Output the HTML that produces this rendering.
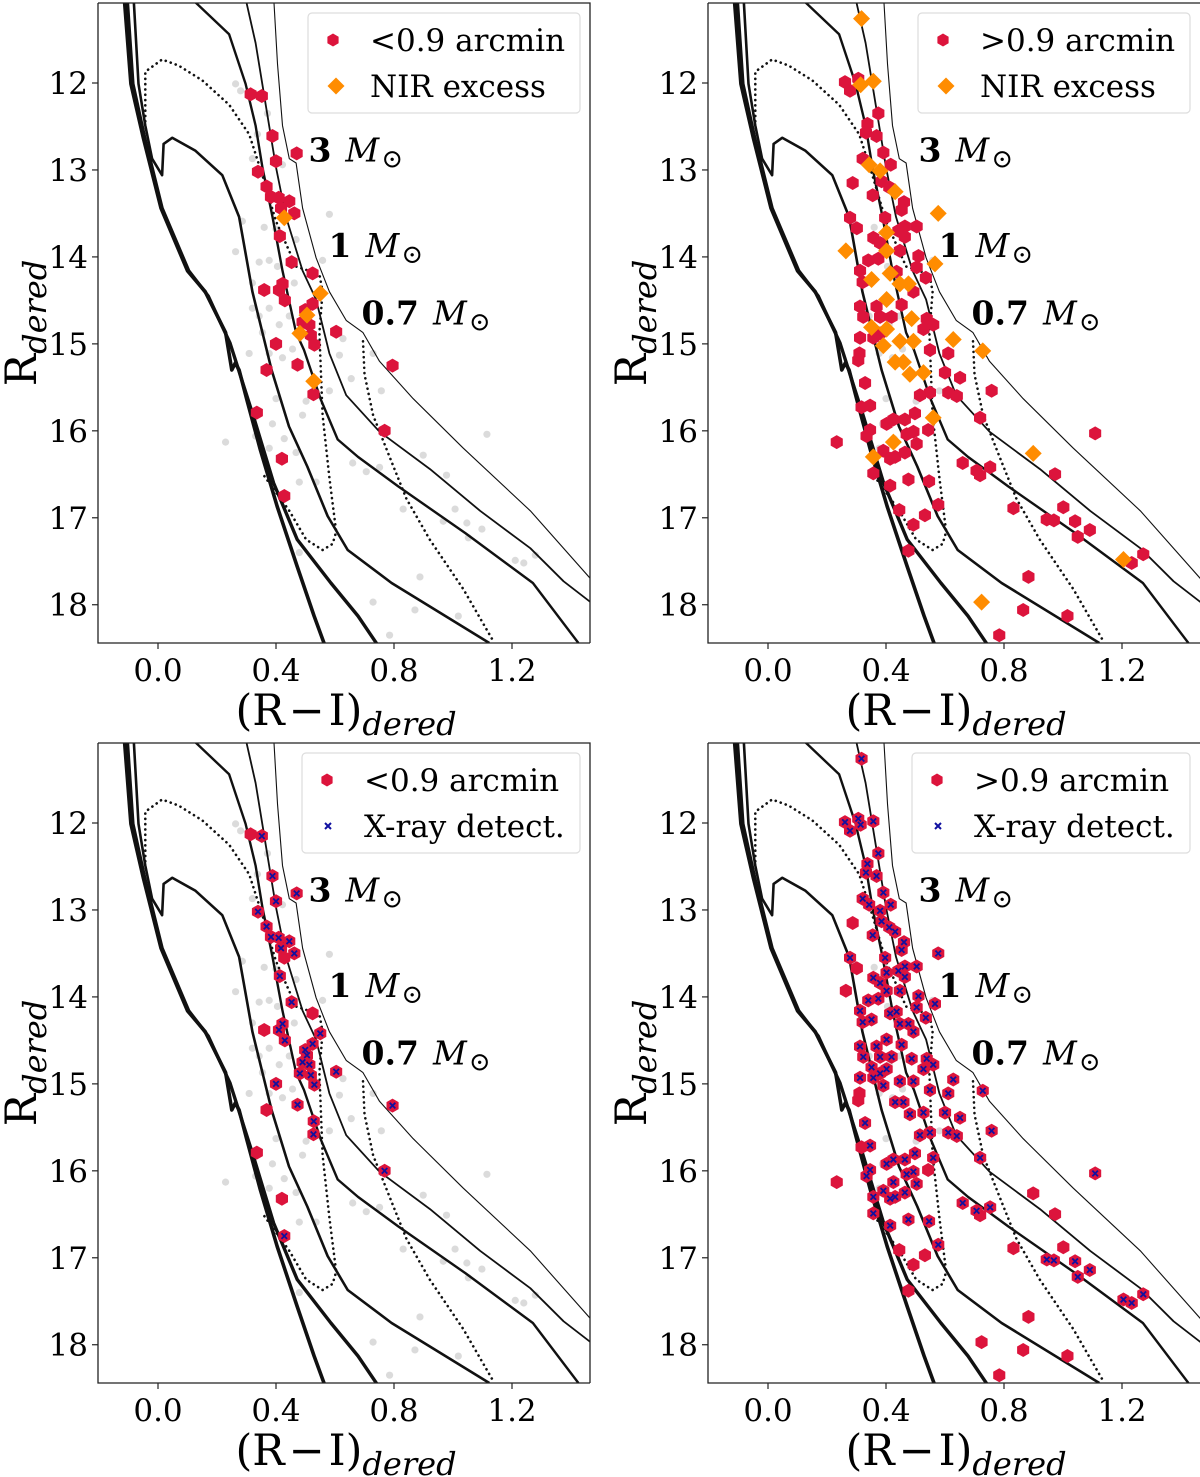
<!DOCTYPE html>
<html><head><meta charset="utf-8"><title>R vs R-I color-magnitude diagrams</title>
<style>
html,body{margin:0;padding:0;background:#fff;}
svg{display:block;font-family:"DejaVu Serif","Liberation Serif",serif;}
</style></head>
<body>
<svg id="fig" width="1200" height="1477" viewBox="0 0 1200 1477" xmlns="http://www.w3.org/2000/svg"></svg>
<script>
// ---------- data ----------
const xTicks = [0.0, 0.4, 0.8, 1.2];
const xTickLabels = ["0.0", "0.4", "0.8", "1.2"];
const yTicks = [12, 13, 14, 15, 16, 17, 18];
const yTickLabels = ["12", "13", "14", "15", "16", "17", "18"];

// isochrones (R-I, R)
const isoA_x = [-0.115,-0.092,-0.05,0.01,0.10,0.16,0.229,0.25,0.262,0.275,0.301,0.347,0.404,0.472,0.529,0.569];
const isoA_y = [11.0,12.01,12.63,13.44,14.16,14.40,14.87,15.3,15.22,15.3,15.64,16.22,16.87,17.56,18.13,18.5];
const isoA2_x = [-0.105,-0.085,-0.045,0.014,0.104,0.17,0.215,0.244,0.324,0.392,0.472,0.586,0.678,0.752];
const isoA2_y = [11.0,12.01,12.63,13.44,14.16,14.45,14.78,14.99,15.84,16.60,17.25,17.75,18.13,18.5];
const isoB_x = [-0.083,-0.066,-0.043,-0.02,0.014,0.019,0.048,0.127,0.218,0.275,0.32,0.385,0.444,0.506,0.575,0.643,0.792,1.123];
const isoB_y = [11.0,12.01,12.49,12.87,13.06,12.70,12.63,12.78,13.06,13.54,14.40,15.3,15.95,16.41,16.98,17.37,17.75,18.44];
const isoC_x = [0.12,0.241,0.297,0.331,0.354,0.388,0.422,0.468,0.495,0.552,0.609,0.678,0.815,1.043,1.271,1.425];
const isoC_y = [11.05,11.44,12.01,12.49,12.97,13.54,14.16,14.87,15.07,15.64,16.10,16.30,16.64,17.18,17.75,18.44];
const isoD_x = [0.295,0.331,0.365,0.40,0.434,0.49,0.536,0.581,0.638,0.751,0.922,1.092,1.262,1.375,1.466];
const isoD_y = [11.0,11.54,12.25,12.97,13.54,14.16,14.49,15.11,15.59,16.01,16.44,16.92,17.35,17.73,17.97];
const isoE_x = [0.392,0.405,0.422,0.445,0.468,0.49,0.536,0.581,0.638,0.695,0.751,0.865,1.035,1.262,1.466];
const isoE_y = [11.0,11.78,12.49,12.87,12.92,13.44,14.01,14.40,14.73,14.87,15.20,15.63,16.2,16.92,17.70];
const dot1_x = [-0.043,-0.043,0.014,0.07,0.15,0.241,0.309,0.354,0.40,0.468,0.547,0.558,0.547,0.558,0.581,0.604,0.592,0.558,0.502,0.445,0.354];
const dot1_y = [12.44,11.87,11.73,11.8,11.97,12.25,12.59,13.06,13.59,14.11,14.2,14.40,14.87,15.82,16.54,17.16,17.3,17.37,17.25,16.92,16.49];
const dot2_x = [0.695,0.70,0.729,0.785,0.842,0.921,1.035,1.137];
const dot2_y = [14.97,15.35,15.82,16.3,16.78,17.25,17.82,18.42];

// background field stars
const grayX = [.263,.28,.371,.32,.422,.337,.371,.286,.36,.40,.468,.581,.263,.343,.377,.405,.32,.462,.558,.32,.377,.343,.411,.445,.309,.354,.422,.456,.377,.627,.615,.729,.581,.655,.757,.40,.502,.49,.388,.428,.229,.331,.377,.468,.66,.706,.751,.899,1.115,.978,.479,.536,.831,1.007,.967,1.047,1.098,1.052,.479,.888,1.211,1.24,1.279,.729,.871,1.018,.785];
const grayY = [12.01,12.09,12.35,12.87,12.94,12.59,13.16,13.59,13.66,13.68,13.8,13.51,13.94,14.06,14.04,14.11,14.3,14.3,14.04,14.59,14.59,14.68,14.78,14.68,15.11,14.87,15.16,15.06,15.11,14.94,15.13,15.11,15.54,15.4,15.54,15.63,15.66,15.82,15.92,16.09,16.13,16.06,16.2,16.25,16.37,16.47,16.42,16.28,16.04,16.51,16.59,16.59,16.9,16.9,17.04,17.06,17.13,17.23,17.4,17.68,17.49,17.52,17.43,17.97,18.06,18.13,18.35];

// inner (<0.9 arcmin) sample
const innerX = [.314,.352,.388,.47,.40,.339,.368,.383,.409,.445,.417,.462,.413,.453,.524,.36,.422,.41,.43,.524,.499,.513,.49,.518,.53,.604,.40,.368,.473,.795,.527,.335,.768,.42,.428];
const innerY = [12.13,12.15,12.61,12.81,12.9,13.02,13.19,13.31,13.32,13.36,13.44,13.5,13.76,14.06,14.19,14.38,14.31,14.38,14.5,14.54,14.61,14.78,14.75,14.9,15.01,14.86,15.0,15.3,15.24,15.25,15.58,15.79,16.0,16.32,16.75];
const innerNirX = [.428,.55,.505,.481,.528];
const innerNirY = [13.55,14.42,14.67,14.88,15.43];
const innerXrayX = [.352,.388,.47,.40,.339,.368,.383,.409,.445,.417,.462,.413,.453,.422,.41,.43,.524,.499,.513,.49,.518,.53,.604,.40,.473,.795,.527,.768,.428,.55,.505,.481,.528];
const innerXrayY = [12.15,12.61,12.81,12.9,13.02,13.19,13.31,13.32,13.36,13.44,13.5,13.76,14.06,14.31,14.38,14.5,14.54,14.61,14.78,14.75,14.9,15.01,14.86,15.0,15.24,15.25,15.58,16.0,16.75,14.42,14.67,14.88,15.43];

// outer (>0.9 arcmin) sample
const outerX = [.261,.278,.306,.374,.337,.332,.368,.391,.321,.416,.385,.287,.355,.411,.461,.453,.278,.301,.397,.464,.504,.357,.380,.442,.464,.447,.510,.504,.535,.340,.374,.312,.321,.436,.493,.453,.312,.368,.323,.380,.419,.538,.560,.527,.312,.310,.306,.357,.380,.549,.611,.600,.329,.651,.758,.515,.549,.611,.640,.317,.346,.498,.719,.402,.425,.464,.543,.470,.493,.346,.334,.233,.504,.391,.431,.464,.414,.660,.707,.719,.753,1.109,.973,.357,.414,.476,.546,.577,.445,.532,.832,1.001,.945,.969,1.041,1.091,1.050,.493,.476,1.272,1.233,.883,.865,1.015,.784];
const outerY = [11.99,12.09,11.95,12.35,12.47,12.57,12.61,12.80,12.87,12.94,13.13,13.15,13.29,13.20,13.37,13.46,13.55,13.67,13.55,13.65,13.65,13.78,13.84,13.70,13.77,13.93,13.99,14.12,14.24,14.04,14.02,14.16,14.29,14.17,14.40,14.55,14.57,14.57,14.69,14.69,14.69,14.71,14.78,14.83,14.93,15.11,15.19,14.93,14.88,15.07,15.11,15.33,15.45,15.39,15.54,15.59,15.56,15.56,15.60,15.73,15.71,15.80,15.85,15.92,15.87,15.87,15.99,16.04,16.01,15.99,16.06,16.13,16.15,16.23,16.30,16.25,16.32,16.37,16.46,16.51,16.42,16.03,16.50,16.49,16.63,16.56,16.58,16.85,16.91,16.97,16.89,16.88,17.02,17.03,17.04,17.14,17.22,17.08,17.38,17.42,17.52,17.68,18.06,18.13,18.35];
const outerNirX = [.317,.314,.357,.343,.380,.431,.577,.402,.264,.402,.566,.351,.414,.447,.476,.402,.487,.351,.402,.391,.447,.493,.628,.728,.431,.459,.481,.527,.560,.425,.357,.899,1.205,.724];
const outerNirY = [11.26,12.02,11.98,12.94,13.01,13.25,13.50,13.72,13.93,13.93,14.08,14.26,14.19,14.31,14.31,14.49,14.71,14.81,14.83,15.02,14.97,14.97,14.95,15.08,15.21,15.21,15.35,15.33,15.85,16.13,16.30,16.26,17.48,17.97];
const outerXrayX = [.261,.278,.306,.374,.337,.332,.368,.391,.321,.416,.385,.355,.411,.461,.453,.278,.397,.464,.504,.357,.380,.442,.464,.447,.510,.504,.535,.340,.374,.312,.321,.436,.493,.453,.312,.368,.323,.380,.419,.538,.560,.527,.312,.357,.380,.549,.611,.600,.329,.651,.758,.515,.549,.611,.640,.346,.498,.719,.402,.425,.464,.470,.493,.346,.334,.504,.391,.431,.464,.414,.660,.707,.753,1.109,.357,.414,.476,.546,.577,.945,.969,1.041,1.091,1.050,1.272,1.233,.317,.314,.357,.343,.380,.431,.577,.402,.402,.566,.351,.414,.447,.476,.402,.487,.351,.402,.391,.447,.493,.628,.728,.431,.459,.481,.527,.560,.425,.357,1.205];
const outerXrayY = [11.99,12.09,11.95,12.35,12.47,12.57,12.61,12.80,12.87,12.94,13.13,13.29,13.20,13.37,13.46,13.55,13.55,13.65,13.65,13.78,13.84,13.70,13.77,13.93,13.99,14.12,14.24,14.04,14.02,14.16,14.29,14.17,14.40,14.55,14.57,14.57,14.69,14.69,14.69,14.71,14.78,14.83,14.93,14.93,14.88,15.07,15.11,15.33,15.45,15.39,15.54,15.59,15.56,15.56,15.60,15.71,15.80,15.85,15.92,15.87,15.87,16.04,16.01,15.99,16.06,16.15,16.23,16.30,16.25,16.32,16.37,16.46,16.42,16.03,16.49,16.63,16.56,16.58,16.85,17.02,17.03,17.04,17.14,17.22,17.42,17.52,11.26,12.02,11.98,12.94,13.01,13.25,13.50,13.72,13.93,14.08,14.26,14.19,14.31,14.31,14.49,14.71,14.81,14.83,15.02,14.97,14.97,14.95,15.08,15.21,15.21,15.35,15.33,15.85,16.13,16.30,17.48];

// ---------- drawing ----------
const NS = "http://www.w3.org/2000/svg";
const svg = document.getElementById("fig");
function mk(tag, attrs, parent) {
  const e = document.createElementNS(NS, tag);
  for (const k in attrs) e.setAttribute(k, attrs[k]);
  (parent || svg).appendChild(e);
  return e;
}
const XMIN = -0.2034, XMAX = 1.4644, YMIN = 11.08, YMAX = 18.44;
const PW = 492, PH = 640;

function hexPts(cx, cy, r) {
  let s = [];
  for (let i = 0; i < 6; i++) { const a = Math.PI / 2 + i * Math.PI / 3; s.push((cx + r * Math.cos(a)).toFixed(1) + "," + (cy - r * Math.sin(a)).toFixed(1)); }
  return s.join(" ");
}
function diaPts(cx, cy, r) { return `${cx},${cy - r} ${cx + r},${cy} ${cx},${cy + r} ${cx - r},${cy}`; }

function panel(id, L, T, redX, redY, secX, secY, secType, legendRed, legendSec, clipRight) {
  const sx = v => L + (v - XMIN) / (XMAX - XMIN) * PW;
  const sy = v => T + (v - YMIN) / (YMAX - YMIN) * PH;
  const g = mk("g", {});
  
  
  const cp = mk("clipPath", { id: "clip-" + id }, g);
  mk("rect", { x: L, y: T, width: PW, height: PH }, cp);
  const plot = mk("g", { "clip-path": "url(#clip-" + id + ")" }, g);

  grayX.forEach((v, i) => {
    const c = mk("circle", { cx: sx(v), cy: sy(grayY[i]), r: 3.6, fill: "#bdbdbd", "fill-opacity": 0.55 }, plot);
    
    
  });
  const isos = [[isoA_x, isoA_y, 3.6, null], [isoA2_x, isoA2_y, 3.4, null], [isoB_x, isoB_y, 2.6, null], [isoC_x, isoC_y, 2.4, null], [isoD_x, isoD_y, 1.8, null], [isoE_x, isoE_y, 1.1, null], [dot1_x, dot1_y, 2.6, "0.1,5.2"], [dot2_x, dot2_y, 2.6, "0.1,5.2"]];
  isos.forEach((s) => {
    const d = s[0].map((v, i) => (i ? "L" : "M") + sx(v).toFixed(1) + " " + sy(s[1][i]).toFixed(1)).join(" ");
    const p = mk("path", { d: d, fill: "none", stroke: "#111", "stroke-width": s[2], "stroke-linejoin": "round", "stroke-linecap": s[3] ? "round" : "butt" }, plot);
    if (s[3]) p.setAttribute("stroke-dasharray", s[3]);
    
    
  });
  redX.forEach((v, i) => {
    const h = mk("polygon", { points: hexPts(sx(v), sy(redY[i]), 7), fill: "#dc143c" }, plot);
    
    
  });
  secX.forEach((v, i) => {
    const cx = sx(v), cy = sy(secY[i]);
    if (secType === "nir") {
      const d = mk("polygon", { points: diaPts(cx, cy, 8.5), fill: "#ff8c00" }, plot);
      
      
    } else {
      const x = mk("path", { d: `M${cx - 2.8} ${cy - 2.8}L${cx + 2.8} ${cy + 2.8}M${cx - 2.8} ${cy + 2.8}L${cx + 2.8} ${cy - 2.8}`, stroke: "#1010a0", "stroke-width": 1.8 }, plot);
      
      
    }
  });
  const ml = [["3", 0.51, 12.9], ["1", 0.578, 14.0], ["0.7", 0.69, 14.78]];
  ml.forEach(m => {
    const t = mk("text", { x: sx(m[1]), y: sy(m[2]), "font-size": 33, fill: "#000" }, plot);
    
    
    t.innerHTML = `<tspan font-weight="bold">${m[0]}</tspan><tspan font-style="italic" dx="14">M</tspan><tspan font-size="26" dx="2" dy="6">⊙</tspan>`;
  });
  const fr = mk("path", { d: `M${L} ${T}H${L + PW}` + (clipRight ? "" : `V${T + PH}`) + `M${L} ${T}V${T + PH}H${L + PW}`, fill: "none", stroke: "#222", "stroke-width": 1.3 }, g);
  
  
  xTicks.forEach((v, i) => {
    mk("line", { x1: sx(v), x2: sx(v), y1: T + PH, y2: T + PH + 6, stroke: "#222", "stroke-width": 1.2 }, g);
    const t = mk("text", { x: sx(v), y: T + PH + 38, "font-size": 31, "text-anchor": "middle" }, g);
    
    
    t.textContent = xTickLabels[i];
  });
  yTicks.forEach((v, i) => {
    mk("line", { x1: L - 6, x2: L, y1: sy(v), y2: sy(v), stroke: "#222", "stroke-width": 1.2 }, g);
    const t = mk("text", { x: L - 10, y: sy(v) + 11, "font-size": 31, "text-anchor": "end" }, g);
    
    
    t.textContent = yTickLabels[i];
  });
  const xl = mk("text", { x: L + 248, y: T + PH + 82, "font-size": 43, "text-anchor": "middle" }, g);
  
  
  xl.innerHTML = `(R<tspan dx="4">−</tspan><tspan dx="4">I)</tspan><tspan font-style="italic" font-size="32" dy="10">dered</tspan>`;
  const yl = mk("text", { x: 0, y: 0, "font-size": 43, "text-anchor": "middle", transform: `translate(${L - 62},${T + 320}) rotate(-90)` }, g);
  
  
  yl.innerHTML = `R<tspan font-style="italic" font-size="32" dy="10">dered</tspan>`;
  const lg = mk("g", {}, g);
  
  
  const lx = L + (secType === "nir" ? 210 : 204), ly = T + 10, lw = secType === "nir" ? 272 : 278;
  mk("rect", { x: lx, y: ly, width: lw, height: 100, rx: 4, fill: "#fff", "fill-opacity": 0.85, stroke: "#ddd", "stroke-width": 1.2 }, lg);
  mk("polygon", { points: hexPts(lx + 25, ly + 27, 6.5), fill: "#dc143c" }, lg);
  if (secType === "nir") mk("polygon", { points: diaPts(lx + 28, ly + 73, 8.5), fill: "#ff8c00" }, lg);
  else mk("path", { d: `M${lx + 23} ${ly + 70}L${lx + 29} ${ly + 76}M${lx + 23} ${ly + 76}L${lx + 29} ${ly + 70}`, stroke: "#1010a0", "stroke-width": 2 }, lg);
  const t1 = mk("text", { x: lx + 62, y: ly + 38, "font-size": 31 }, lg);
  
  
  t1.textContent = legendRed;
  const t2 = mk("text", { x: lx + 62, y: ly + 84, "font-size": 31 }, lg);
  
  
  t2.textContent = legendSec;
}

panel("top-left", 98, 3, innerX, innerY, innerNirX, innerNirY, "nir", "<0.9 arcmin", "NIR excess", false);
panel("top-right", 708, 3, outerX, outerY, outerNirX, outerNirY, "nir", ">0.9 arcmin", "NIR excess", true);
panel("bottom-left", 98, 743, innerX.concat(innerNirX), innerY.concat(innerNirY), innerXrayX, innerXrayY, "xray", "<0.9 arcmin", "X-ray detect.", false);
panel("bottom-right", 708, 743, outerX.concat(outerNirX), outerY.concat(outerNirY), outerXrayX, outerXrayY, "xray", ">0.9 arcmin", "X-ray detect.", true);
</script>
</body></html>
